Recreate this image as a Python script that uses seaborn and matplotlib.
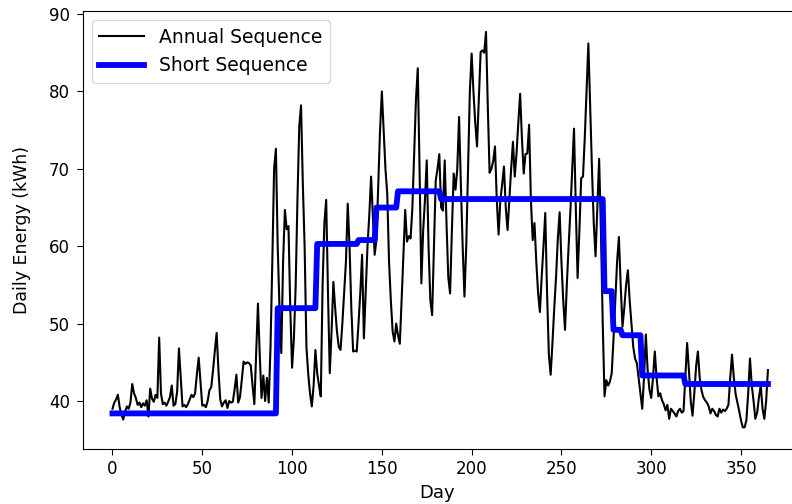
import numpy as np
import pandas as pd
import matplotlib
matplotlib.use("Agg")
import matplotlib.pyplot as plt
import seaborn as sns

# ---- data ----
days = list(range(366))

annual = [
    39.0, 39.8, 40.2, 40.8, 39.2, 38.2, 37.6, 38.6, 39.3, 39.0,
    39.8, 42.2, 41.0, 40.4, 39.5, 39.8, 39.2, 39.7, 39.4, 40.1,
    38.0, 41.6, 40.3, 39.9, 40.8, 40.4, 48.2, 41.0, 39.6, 39.8,
    39.4, 39.9, 40.5, 42.0, 39.4, 39.6, 41.2, 46.8, 43.0, 39.3,
    39.5, 39.2, 39.6, 40.2, 40.8, 40.5, 41.0, 43.5, 45.6, 42.5,
    39.4, 39.5, 39.2, 40.0, 41.4, 41.8, 44.0, 46.5, 48.8, 44.0,
    40.2, 39.3, 39.8, 40.1, 39.1, 40.0, 39.8, 39.9, 41.5, 43.4,
    39.8, 40.5, 42.7, 45.1, 44.8, 45.0, 44.9, 44.6, 42.0, 39.6,
    46.0, 52.6, 46.0, 40.4, 43.3, 40.0, 43.0, 39.8, 47.0, 58.0,
    70.0, 72.6, 60.0, 52.0, 46.2, 58.0, 64.7, 62.2, 62.6, 52.0,
    44.3, 48.0, 54.8, 66.0, 75.5, 78.2, 68.0, 59.9, 47.0, 43.5,
    41.0, 39.3, 42.0, 46.6, 43.6, 42.0, 40.6, 55.0, 63.0, 66.0,
    54.0, 43.6, 49.0, 55.4, 52.0, 49.0, 47.0, 46.6, 50.0, 54.0,
    58.0, 65.5, 60.0, 52.0, 46.4, 46.5, 46.4, 50.0, 54.0, 58.9,
    48.1, 54.0, 60.0, 64.0, 69.0, 64.0, 58.9, 60.9, 68.0, 75.0,
    80.0, 75.0, 70.0, 66.8, 58.0, 53.0, 49.0, 47.7, 50.0, 48.5,
    47.4, 53.0, 59.0, 64.7, 60.6, 61.3, 61.0, 65.0, 72.0, 79.0,
    83.0, 70.0, 55.2, 62.0, 66.0, 71.1, 60.0, 53.0, 51.1, 60.0,
    68.5, 70.0, 71.9, 65.0, 64.6, 71.1, 63.0, 56.0, 53.9, 62.0,
    69.4, 67.3, 70.0, 76.7, 68.0, 60.0, 53.5, 60.0, 70.0, 80.0,
    84.9, 80.0, 76.0, 72.9, 79.0, 85.1, 85.3, 85.0, 87.7, 78.0,
    69.5, 70.0, 71.0, 72.9, 66.0, 61.5, 66.0, 68.0, 70.3, 65.0,
    62.1, 66.0, 70.0, 73.5, 69.0, 72.0, 76.0, 79.7, 74.0, 69.4,
    71.9, 72.0, 75.7, 66.0, 60.8, 63.0, 58.0, 54.0, 51.5, 56.0,
    60.0, 64.3, 54.0, 46.0, 43.4, 47.5, 52.0, 56.0, 61.0, 64.4,
    58.0, 53.0, 49.2, 55.0, 60.0, 64.6, 70.0, 75.2, 65.0, 55.9,
    62.0, 68.8, 69.0, 74.0, 80.0, 86.2, 78.0, 70.0, 63.0, 58.7,
    65.0, 71.3, 62.0, 50.0, 40.6, 42.7, 42.0, 42.5, 43.6, 48.0,
    53.0, 58.0, 61.2, 55.0, 49.6, 52.0, 55.0, 56.9, 53.0, 50.0,
    47.0, 45.5, 44.9, 43.0, 41.0, 39.0, 43.0, 48.6, 44.0, 41.5,
    40.4, 43.0, 46.4, 43.0, 40.6, 41.0, 40.1, 39.6, 38.8, 39.5,
    37.7, 39.0, 38.7, 38.4, 38.0, 38.7, 39.0, 38.5, 38.7, 43.0,
    47.5, 44.0, 40.0, 38.1, 41.0, 44.5, 46.4, 43.0, 41.4, 40.5,
    40.1, 39.8, 39.3, 38.4, 39.0, 38.7, 38.2, 38.0, 39.0, 38.5,
    38.9, 38.7, 39.0, 39.5, 43.0, 46.0, 43.0, 40.9, 39.8, 38.7,
    37.5, 36.6, 36.6, 37.5, 41.0, 45.5, 42.0, 40.0, 37.7, 38.5,
    40.5, 42.0, 39.0, 37.7, 40.0, 44.0,
]

short_levels = [38.4, 52.0, 60.3, 60.8, 65.0, 67.1, 66.1, 54.2, 49.2, 48.5, 43.3, 42.2]
short_lengths = [92, 22, 23, 10, 12, 24, 91, 5, 5, 11, 24, 47]
short = list(np.repeat(short_levels, short_lengths))

x_ticks = [0, 50, 100, 150, 200, 250, 300, 350]
y_ticks = [40, 50, 60, 70, 80, 90]

df = pd.DataFrame({"Day": days, "Annual": annual, "Short": short})

# ---- plot ----
fig = plt.figure(figsize=(7.92, 5.04), dpi=100)
ax = fig.add_axes([82.5 / 792, 55 / 504, (792 - 82.5) / 792, 438 / 504])

sns.lineplot(data=df, x="Day", y="Annual", color="black", linewidth=1.5,
             label="Annual Sequence", estimator=None, ax=ax)
sns.lineplot(data=df, x="Day", y="Short", color="blue", linewidth=4.2,
             label="Short Sequence", estimator=None, ax=ax)

ax.set_xlim(-16.7, 378.4)
ax.set_ylim(33.8, 90.4)
ax.set_xticks(x_ticks)
ax.set_yticks(y_ticks)
ax.tick_params(axis="both", labelsize=12, length=4.5)
ax.tick_params(axis="y", pad=4.5)
ax.spines["right"].set_visible(False)
ax.set_xlabel("Day", fontsize=13)
ax.set_ylabel("Daily Energy (kWh)", fontsize=12.5)
ax.yaxis.set_label_coords(-0.072, 0.5)
ax.legend(loc="upper left", fontsize=13.5, handlelength=2.4)

fig.savefig("out.png", dpi=100)
